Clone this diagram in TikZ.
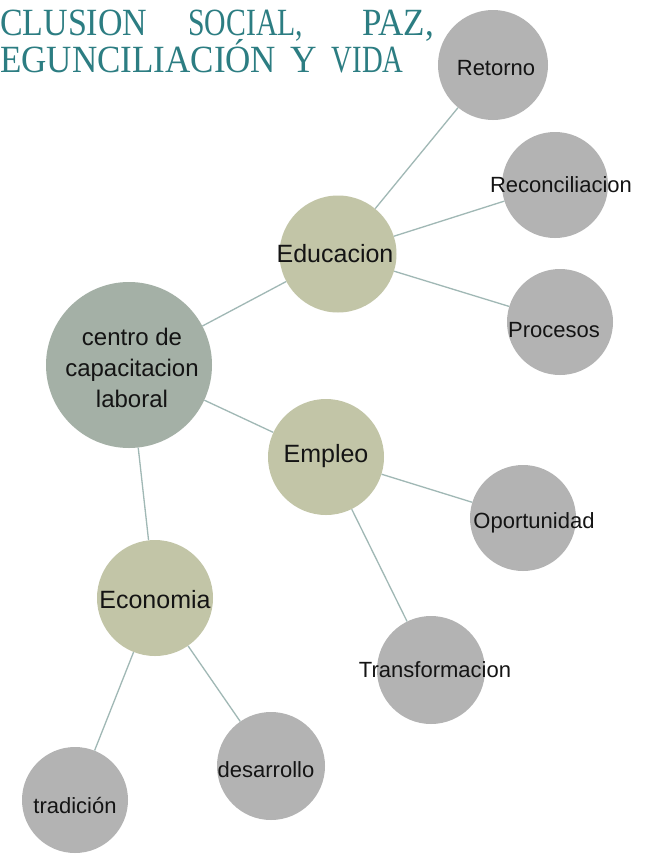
\documentclass[tikz,border=0pt]{standalone}
\usepackage{fontspec}
\setmainfont{Liberation Sans}
\newfontfamily\titlefont{Liberation Serif}
\definecolor{hubfill}{HTML}{A4B0A6}
\definecolor{midfill}{HTML}{C2C5A7}
\definecolor{leaffill}{HTML}{B3B3B3}
\definecolor{conncol}{HTML}{A0B8B5}
\definecolor{titlecol}{HTML}{2C7D82}
\definecolor{txtcol}{HTML}{141414}
\newcommand{\tw}[2]{\scalebox{#1}[1.1]{#2}}
\begin{document}
\begin{tikzpicture}[x=1pt,y=-1pt,
  hub/.style={circle,fill=hubfill,inner sep=0pt,minimum size=166pt},
  mid/.style={circle,fill=midfill,inner sep=0pt,minimum size=117pt},
  leaf/.style={circle,fill=leaffill,inner sep=0pt,minimum size=106pt},
  conn/.style={draw=conncol,line width=1.3pt},
  hubtext/.style={text=txtcol,align=center,inner sep=0pt,font=\fontsize{24}{31}\selectfont},
  midtext/.style={text=txtcol,inner sep=0pt,anchor=base,font=\fontsize{25}{30}\selectfont},
  leaftext/.style={text=txtcol,inner sep=0pt,anchor=base,font=\fontsize{22}{26}\selectfont},
  titletext/.style={text=titlecol,inner sep=0pt,font=\titlefont\fontsize{35}{35}\selectfont}]
\useasboundingbox (0,0) rectangle (654,854);
\clip (0,0) rectangle (654,854);
\fill[white] (0,0) rectangle (654,854);

% title
\node[titletext,anchor=base west] (title) at (0,72) {\vbox{\baselineskip=37pt\lineskiplimit=-100pt
  \hbox{\tw{0.97}{CLUSION}\hspace{41pt}\tw{0.85}{SOCIAL,}\hspace{59pt}\tw{1.0}{PAZ,}}
  \hbox{\tw{1.0}{EGUNCILIACIÓN}\hspace{14pt}\tw{1.05}{Y}\hspace{15pt}\tw{0.82}{VIDA}}}};

% circles
\node[hub] (centro) at (129,365) {};
\node[mid] (edu) at (338,254) {};
\node[mid, minimum size=116pt] (emp) at (326,457) {};
\node[mid, minimum size=116pt] (eco) at (155,598) {};
\node[leaf, minimum size=110pt] (ret) at (493,65) {};
\node[leaf] (rec) at (555,185) {};
\node[leaf] (pro) at (560,322) {};
\node[leaf] (opo) at (523,518) {};
\node[leaf, minimum size=108pt] (tra) at (431,670) {};
\node[leaf, minimum size=108pt] (des) at (271,766) {};
\node[leaf] (tad) at (75,800) {};

% connectors
\draw[conn] (centro) -- (edu);
\draw[conn] (centro) -- (emp);
\draw[conn] (centro) -- (eco);
\draw[conn] (edu) -- (ret);
\draw[conn] (edu) -- (rec);
\draw[conn] (edu) -- (pro);
\draw[conn] (emp) -- (opo);
\draw[conn] (emp) -- (tra);
\draw[conn] (eco) -- (tad);
\draw[conn] (eco) -- (des);

% texts
\node[hubtext] (centroT) at (132,368) {centro de\\capacitacion\\laboral};
\node[midtext] (eduT) at (335,262) {Educacion};
\node[midtext] (empT) at (326,462) {Empleo};
\node[midtext] (ecoT) at (155,608) {Economia};
\node[leaftext] (retT) at (496,75) {Retorno};
\node[leaftext] (recT) at (561,192) {Reconciliacion};
\node[leaftext] (proT) at (554,337) {Procesos};
\node[leaftext] (opoT) at (534,528) {Oportunidad};
\node[leaftext] (traT) at (435,677) {Transformacion};
\node[leaftext] (desT) at (266,777) {desarrollo};
\node[leaftext] (tadT) at (75,813) {tradición};
\end{tikzpicture}
\end{document}
